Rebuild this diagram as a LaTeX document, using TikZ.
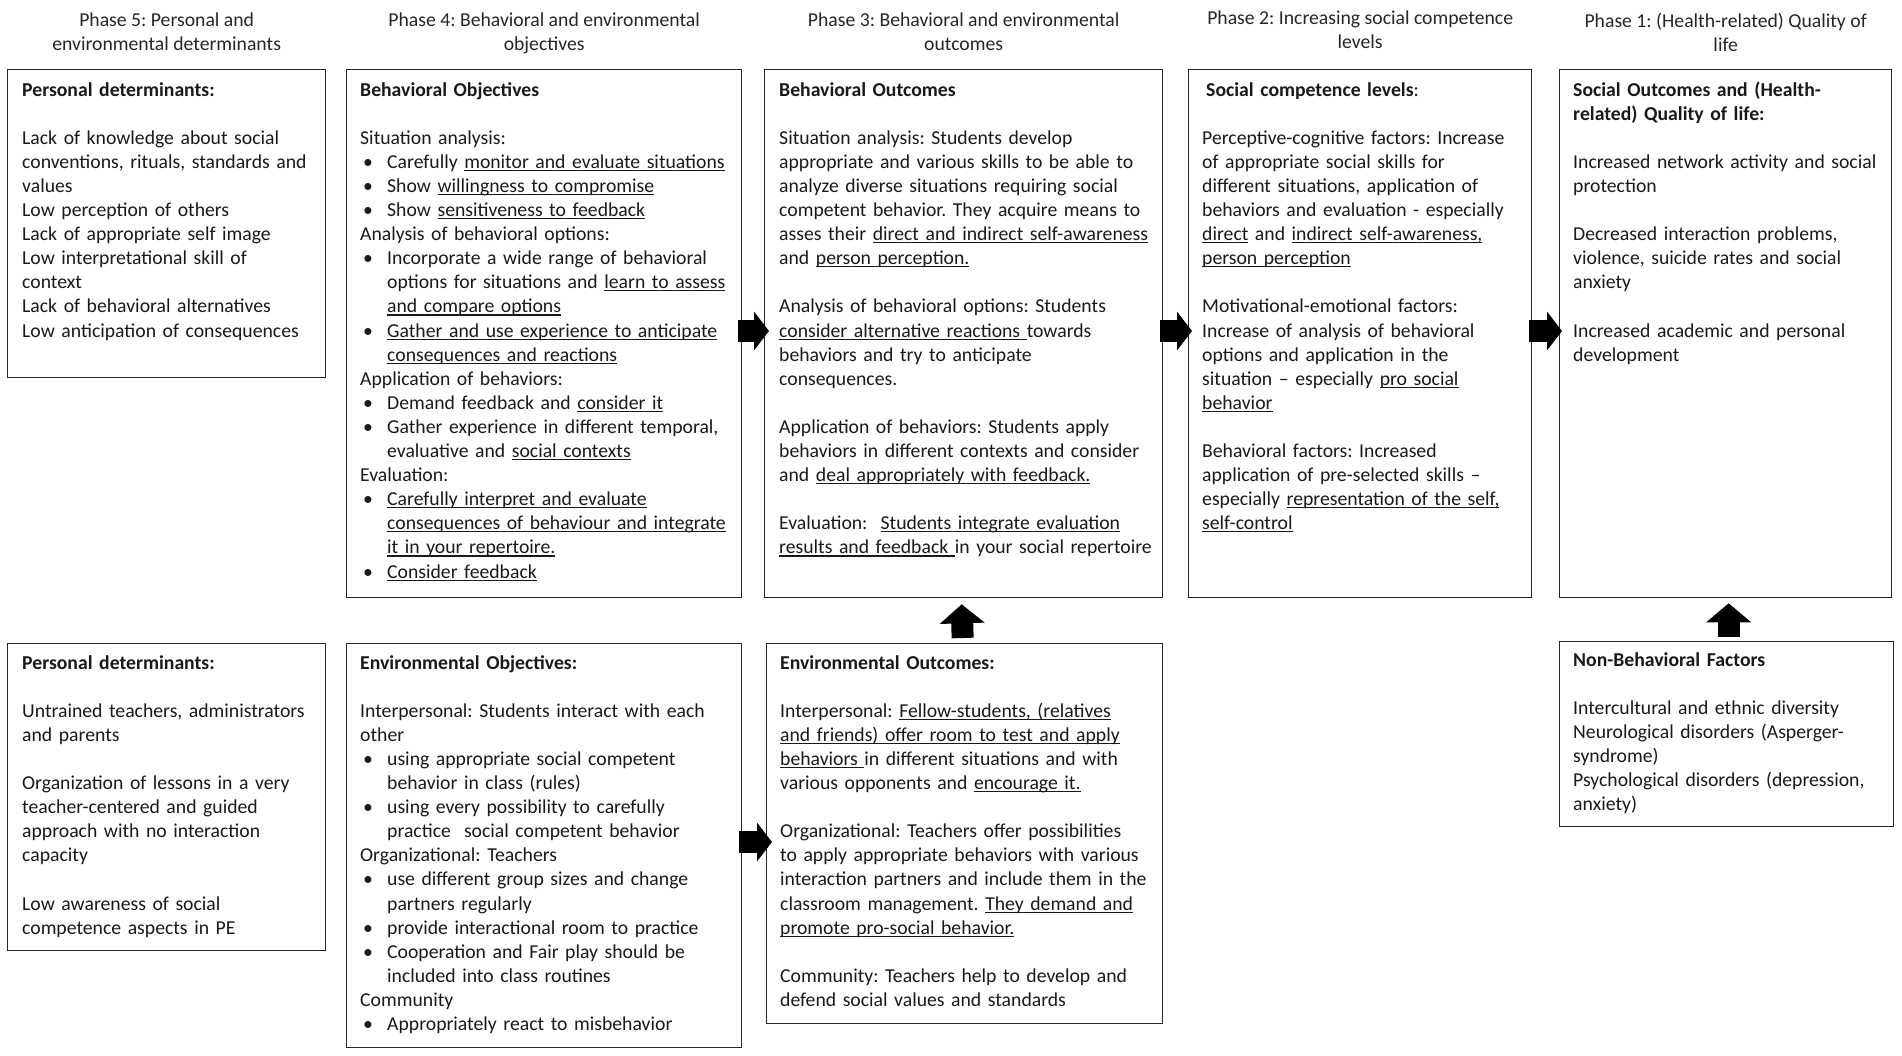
\documentclass[tikz,border=0pt]{standalone}
\usepackage{fontspec}
\setmainfont{Carlito}
\usetikzlibrary{arrows.meta}
\frenchspacing
\newsavebox\ulbox
\newcommand\ulx[1]{\leavevmode\sbox\ulbox{#1}\rlap{\rule[-2.6pt]{\wd\ulbox}{1.1pt}}\usebox\ulbox}
\newcommand\bu{\leavevmode\makebox[27pt][l]{\hspace{3pt}\textbullet}}
\newcommand\ind{\leavevmode\hspace*{27pt}}
\newcommand\gap{\\\mbox{}\\}
\begin{document}
\begin{tikzpicture}[x=1pt,y=-1pt,
  box/.style={draw=black!85, line width=1.3pt, anchor=north west, inner sep=0pt},
  txt/.style={anchor=north west, inner sep=0pt, text width=450pt, align=left, text=black!90,
    font=\fontsize{19.7}{24.1}\selectfont\frenchspacing},
  head/.style={anchor=north, inner sep=0pt, align=center, text=black!85,
    font=\fontsize{19.7}{24.1}\selectfont\frenchspacing},
  fatright/.style={line width=22pt, draw=black, -{Triangle[width=38pt,length=15pt]}},
  fatup/.style={line width=22pt, draw=black, -{Triangle[width=44pt,length=19pt]}},
]
\useasboundingbox (0,0) rectangle (1902,1055);
% boxes
\node[box, minimum width=318pt, minimum height=308pt] (b1) at (7,69) {};
\node[box, minimum width=395pt, minimum height=528pt] (b2) at (346,69) {};
\node[box, minimum width=398pt, minimum height=528pt] (b3) at (764,69) {};
\node[box, minimum width=343pt, minimum height=528pt] (b4) at (1188,69) {};
\node[box, minimum width=332pt, minimum height=528pt] (b5) at (1559,69) {};
\node[box, minimum width=318pt, minimum height=307pt] (b6) at (7,643) {};
\node[box, minimum width=395pt, minimum height=404pt] (b7) at (346,643) {};
\node[box, minimum width=396pt, minimum height=380pt] (b8) at (766,643) {};
\node[box, minimum width=334pt, minimum height=185pt] (b9) at (1559,641) {};
% headings
\node[head] (h5) at ([yshift=60pt]b1.north) {\strut Phase 5: Personal and\\environmental determinants};
\node[head] (h4) at ([yshift=60pt]b2.north) {\strut Phase 4: Behavioral and environmental\\objectives};
\node[head] (h3) at ([yshift=60pt]b3.north) {\strut Phase 3: Behavioral and environmental\\outcomes};
\node[head] (h2) at ([yshift=62pt]b4.north) {\strut Phase 2: Increasing social competence\\levels};
\node[head] (h1) at ([yshift=59pt]b5.north) {\strut Phase 1: (Health-related) Quality of\\life};
% texts
\node[txt] (t1) at ([xshift=15pt,yshift=-10pt]b1.north west) {\strut\textbf{Personal determinants:}\gap
Lack of knowledge about social\\
conventions, rituals, standards and\\
values\\
Low perception of others\\
Lack of appropriate self image\\
Low interpretational skill of\\
context\\
Lack of behavioral alternatives\\
Low anticipation of consequences};
\node[txt] (t2) at ([xshift=14pt,yshift=-10pt]b2.north west) {\strut\textbf{Behavioral Objectives}\gap
Situation analysis:\\
\bu Carefully \ulx{monitor and evaluate situations}\\
\bu Show \ulx{willingness to compromise}\\
\bu Show \ulx{sensitiveness to feedback}\\
Analysis of behavioral options:\\
\bu Incorporate a wide range of behavioral\\
\ind options for situations and \ulx{learn to assess}\\
\ind\ulx{and compare options}\\
\bu\ulx{Gather and use experience to anticipate}\\
\ind\ulx{consequences and reactions}\\
Application of behaviors:\\
\bu Demand feedback and \ulx{consider it}\\
\bu Gather experience in different temporal,\\
\ind evaluative and \ulx{social contexts}\\
Evaluation:\\
\bu\ulx{Carefully interpret and evaluate}\\
\ind\ulx{consequences of behaviour and integrate}\\
\ind\ulx{it in your repertoire.}\\
\bu\ulx{Consider feedback}};
\node[txt] (t3) at ([xshift=15pt,yshift=-10pt]b3.north west) {\strut\textbf{Behavioral Outcomes}\gap
Situation analysis: Students develop\\
appropriate and various skills to be able to\\
analyze diverse situations requiring social\\
competent behavior. They acquire means to\\
asses their \ulx{direct and indirect self-awareness}\\
and \ulx{person perception.}\gap
Analysis of behavioral options: Students\\
\ulx{consider alternative reactions }towards\\
behaviors and try to anticipate\\
consequences.\gap
Application of behaviors: Students apply\\
behaviors in different contexts and consider\\
and \ulx{deal appropriately with feedback.}\gap
Evaluation:\ \ \ulx{Students integrate evaluation}\\
\ulx{results and feedback }in your social repertoire};
\node[txt] (t4) at ([xshift=14pt,yshift=-10pt]b4.north west) {\strut\hspace*{4pt}\textbf{Social competence levels}:\gap
Perceptive-cognitive factors: Increase\\
of appropriate social skills for\\
different situations, application of\\
behaviors and evaluation - especially\\
\ulx{direct} and \ulx{indirect self-awareness,}\\
\ulx{person perception}\gap
Motivational-emotional factors:\\
Increase of analysis of behavioral\\
options and application in the\\
situation – especially \ulx{pro social}\\
\ulx{behavior}\gap
Behavioral factors: Increased\\
application of pre-selected skills –\\
especially \ulx{representation of the self,}\\
\ulx{self-control}};
\node[txt] (t5) at ([xshift=14pt,yshift=-10pt]b5.north west) {\strut\textbf{Social Outcomes and (Health-}\\
\textbf{related) Quality of life:}\gap
Increased network activity and social\\
protection\gap
Decreased interaction problems,\\
violence, suicide rates and social\\
anxiety\gap
Increased academic and personal\\
development};
\node[txt] (t6) at ([xshift=15pt,yshift=-9pt]b6.north west) {\strut\textbf{Personal determinants:}\gap
Untrained teachers, administrators\\
and parents\gap
Organization of lessons in a very\\
teacher-centered and guided\\
approach with no interaction\\
capacity\gap
Low awareness of social\\
competence aspects in PE};
\node[txt] (t7) at ([xshift=14pt,yshift=-9pt]b7.north west) {\strut\textbf{Environmental Objectives:}\gap
Interpersonal: Students interact with each\\
other\\
\bu using appropriate social competent\\
\ind behavior in class (rules)\\
\bu using every possibility to carefully\\
\ind practice\ \ social competent behavior\\
Organizational: Teachers\\
\bu use different group sizes and change\\
\ind partners regularly\\
\bu provide interactional room to practice\\
\bu Cooperation and Fair play should be\\
\ind included into class routines\\
Community\\
\bu Appropriately react to misbehavior};
\node[txt] (t8) at ([xshift=14pt,yshift=-9pt]b8.north west) {\strut\textbf{Environmental Outcomes:}\gap
Interpersonal: \ulx{Fellow-students, (relatives}\\
\ulx{and friends) offer room to test and apply}\\
\ulx{behaviors }in different situations and with\\
various opponents and \ulx{encourage it.}\gap
Organizational: Teachers offer possibilities\\
to apply appropriate behaviors with various\\
interaction partners and include them in the\\
classroom management. \ulx{They demand and}\\
\ulx{promote pro-social behavior.}\gap
Community: Teachers help to develop and\\
defend social values and standards};
\node[txt] (t9) at ([xshift=14pt,yshift=-8pt]b9.north west) {\strut\textbf{Non-Behavioral Factors}\gap
Intercultural and ethnic diversity\\
Neurological disorders (Asperger-\\
syndrome)\\
Psychological disorders (depression,\\
anxiety)};
% arrows
\draw[fatright] ([xshift=-4pt,yshift=-262pt]b2.north east) -- ([xshift=5pt,yshift=-262pt]b3.north west);
\draw[fatright] ([xshift=-3pt,yshift=-262pt]b3.north east) -- ([xshift=4pt,yshift=-262pt]b4.north west);
\draw[fatright] ([xshift=-3pt,yshift=-262pt]b4.north east) -- ([xshift=3pt,yshift=-262pt]b5.north west);
\draw[fatright] ([xshift=-3pt,yshift=-199pt]b7.north east) -- ([xshift=6pt,yshift=-199pt]b8.north west);
\draw[fatup] ([xshift=-2pt,yshift=5pt]b8.north) -- ([xshift=-2pt,yshift=-6pt]b3.south);
\draw[fatup] ([xshift=2pt,yshift=4pt]b9.north) -- ([xshift=3pt,yshift=-5pt]b5.south);
\end{tikzpicture}
\end{document}
